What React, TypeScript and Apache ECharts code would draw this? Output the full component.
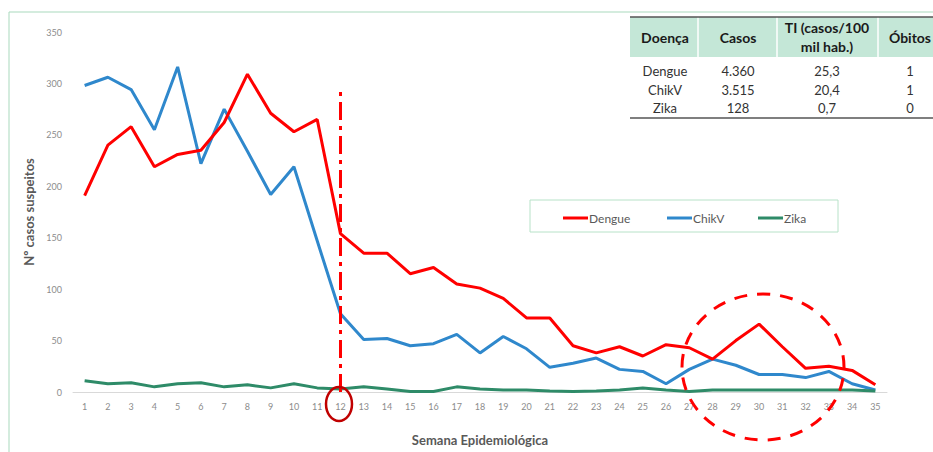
import React, { useEffect, useRef } from "react";
import * as echarts from "echarts";

const weeks: string[] = [
  "1","2","3","4","5","6","7","8","9","10","11","12","13","14","15","16","17","18",
  "19","20","21","22","23","24","25","26","27","28","29","30","31","32","33","34","35",
];
const dengue: number[] = [
  191, 240, 258, 219, 231, 235, 262, 309, 271, 253, 265, 154, 135, 135, 115, 121, 105, 101,
  91, 72, 72, 45, 38, 44, 35, 46, 43, 32, 50, 66, 44, 23, 25, 21, 7,
];
const chikv: number[] = [
  298, 306, 294, 255, 316, 222, 275, 234, 192, 219, 147, 76, 51, 52, 45, 47, 56, 38,
  54, 42, 24, 28, 33, 22, 20, 8, 22, 32, 26, 17, 17, 14, 20, 8, 2,
];
const zika: number[] = [
  11, 8, 9, 5, 8, 9, 5, 7, 4, 8, 4, 3, 5, 3, 0.5, 0.5, 5, 3,
  2, 2, 1, 0.5, 1, 2, 4, 2, 0.5, 2, 2, 2, 2, 2, 2, 2, 1,
];
const yTicks: number[] = [0, 50, 100, 150, 200, 250, 300, 350];
const markWeek = "12";
const markTop = 292;

const tableHeaders: string[] = ["Doença", "Casos", "TI (casos/100\nmil hab.)", "Óbitos"];
const tableDiseases: string[] = ["Dengue", "ChikV", "Zika"];
const tableCasos: string[] = ["4.360", "3.515", "128"];
const tableTI: string[] = ["25,3", "20,4", "0,7"];
const tableObitos: string[] = ["1", "1", "0"];

const FONT = "Lato, 'Open Sans', sans-serif";

export default function App() {
  const ref = useRef<HTMLDivElement>(null);
  useEffect(() => {
    document.body.style.margin = "0";
    if (!ref.current) return;
    const chart = echarts.init(ref.current, null, { renderer: "svg" });

    const colCenters = [665, 738, 827, 910];
    const colBounds = [698, 777, 878];
    const rowY = [71, 90, 108];
    const tableCols = [tableDiseases, tableCasos, tableTI, tableObitos];

    const graphics: any[] = [
      {
        type: "rect",
        shape: { x: 9, y: 12, width: 1200, height: 1000 },
        style: { fill: "none", stroke: "#a9d9bd", lineWidth: 1 },
        silent: true,
        z: 0,
      },
      {
        type: "rect",
        shape: { x: 530, y: 200, width: 308, height: 32 },
        style: { fill: "#fff", stroke: "#b7e2c8", lineWidth: 1 },
        silent: true,
        z: 1,
      },
      {
        type: "rect",
        shape: { x: 630, y: 17, width: 310, height: 40 },
        style: { fill: "#c4e7d7" },
        silent: true,
        z: 10,
      },
      ...colBounds.map((x) => ({
        type: "line",
        shape: { x1: x, y1: 17, x2: x, y2: 57 },
        style: { stroke: "#ffffff", lineWidth: 1.5 },
        silent: true,
        z: 11,
      })),
      {
        type: "line",
        shape: { x1: 630, y1: 17, x2: 940, y2: 17 },
        style: { stroke: "#555", lineWidth: 1.5 },
        silent: true,
        z: 12,
      },
      {
        type: "line",
        shape: { x1: 630, y1: 118, x2: 940, y2: 118 },
        style: { stroke: "#555", lineWidth: 1.5 },
        silent: true,
        z: 12,
      },
      ...tableHeaders.map((h, i) => ({
        type: "text",
        x: colCenters[i],
        y: 37,
        style: {
          text: h,
          fill: "#1a1a1a",
          font: `bold 14px ${FONT}`,
          align: "center",
          verticalAlign: "middle",
          lineHeight: 19,
        },
        silent: true,
        z: 13,
      })),
      ...tableCols.flatMap((col, ci) =>
        col.map((v, ri) => ({
          type: "text",
          x: colCenters[ci],
          y: rowY[ri],
          style: {
            text: v,
            fill: "#333",
            font: `13px ${FONT}`,
            align: "center",
            verticalAlign: "middle",
          },
          silent: true,
          z: 13,
        }))
      ),
      {
        type: "ellipse",
        shape: { cx: 339, cy: 404, rx: 13, ry: 17 },
        style: { fill: "none", stroke: "#c00000", lineWidth: 2.5 },
        silent: true,
        z: 20,
      },
      {
        type: "ellipse",
        shape: { cx: 763, cy: 367, rx: 81, ry: 73 },
        style: { fill: "none", stroke: "#ff0000", lineWidth: 3, lineDash: [13, 10] },
        silent: true,
        z: 20,
      },
    ];

    const legendBase = {
      top: 212,
      itemWidth: 25,
      itemHeight: 3,
      itemGap: 0,
      icon: "rect",
      padding: 0,
      z: 5,
      textStyle: { color: "#595959", fontSize: 12, fontFamily: FONT, padding: [0, 0, 0, -4] },
    };

    chart.setOption({
      animation: false,
      grid: { left: 73, right: 46, top: 32, bottom: 60 },
      legend: [
        { ...legendBase, data: ["Dengue"], left: 563 },
        { ...legendBase, data: ["ChikV"], left: 667 },
        { ...legendBase, data: ["Zika"], left: 758 },
      ],
      xAxis: {
        type: "category",
        data: weeks,
        boundaryGap: true,
        name: "Semana Epidemiológica",
        nameLocation: "middle",
        nameGap: 41,
        nameTextStyle: { color: "#595959", fontSize: 13, fontWeight: "bold", fontFamily: FONT },
        axisLine: { lineStyle: { color: "#d9d9d9", width: 1 } },
        axisTick: { show: false },
        axisLabel: { color: "#8c8c8c", fontSize: 9, margin: 10, fontFamily: FONT, interval: 0 },
      },
      yAxis: {
        type: "value",
        min: yTicks[0],
        max: yTicks[yTicks.length - 1],
        interval: yTicks[1] - yTicks[0],
        name: "Nº casos suspeitos",
        nameLocation: "middle",
        nameGap: 38,
        nameRotate: 90,
        nameTextStyle: { color: "#595959", fontSize: 13, fontWeight: "bold", fontFamily: FONT },
        axisLine: { show: false },
        axisTick: { show: false },
        splitLine: { show: false },
        axisLabel: { color: "#8c8c8c", fontSize: 9, margin: 11, fontFamily: FONT },
      },
      graphic: graphics,
      series: [
        {
          name: "Dengue",
          type: "line",
          data: dengue,
          symbol: "none",
          lineStyle: { color: "#ff0000", width: 3 },
          itemStyle: { color: "#ff0000" },
          z: 4,
          markLine: {
            silent: true,
            symbol: "none",
            label: { show: false },
            lineStyle: { color: "#ff0000", width: 3, type: [18, 6, 4, 6] },
            data: [[{ coord: [markWeek, 0] }, { coord: [markWeek, markTop] }]],
          },
        },
        {
          name: "ChikV",
          type: "line",
          data: chikv,
          symbol: "none",
          lineStyle: { color: "#2f88cc", width: 3 },
          itemStyle: { color: "#2f88cc" },
          z: 3,
        },
        {
          name: "Zika",
          type: "line",
          data: zika,
          symbol: "none",
          lineStyle: { color: "#2e8b68", width: 3 },
          itemStyle: { color: "#2e8b68" },
          z: 3,
        },
      ],
    });
    return () => chart.dispose();
  }, []);
  return <div ref={ref} style={{ width: 933, height: 452 }} />;
}
